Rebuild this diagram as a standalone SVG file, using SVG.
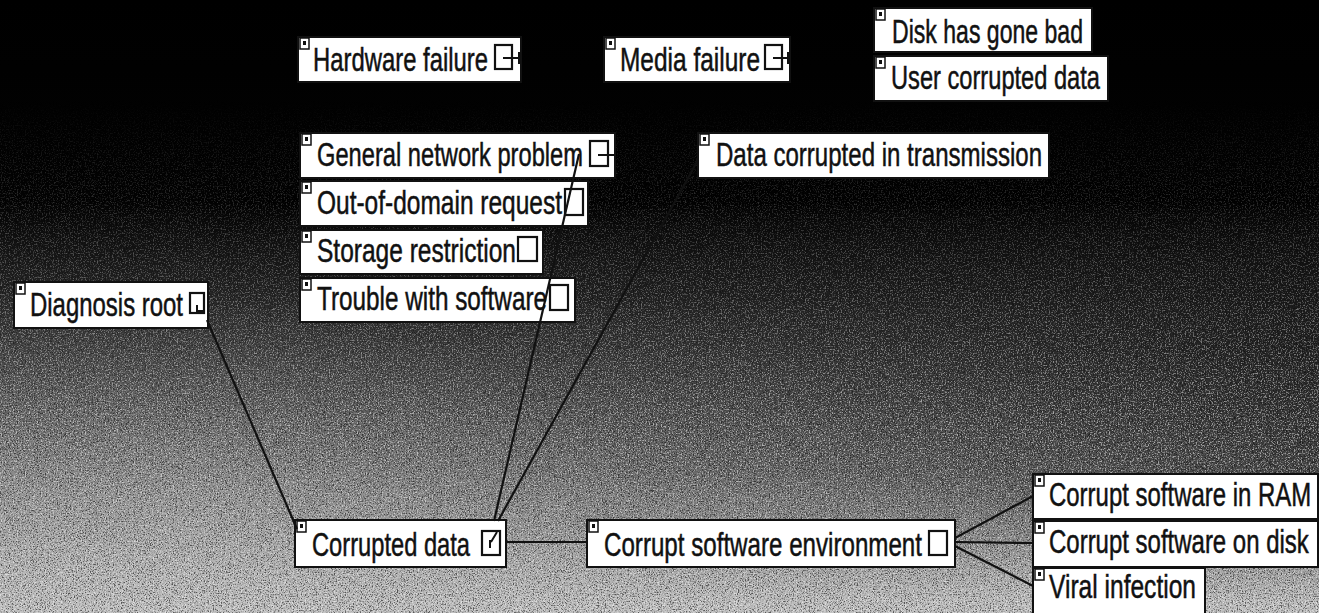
<svg xmlns="http://www.w3.org/2000/svg" width="1319" height="613" viewBox="0 0 1319 613">
<defs>
<linearGradient id="bg" x1="0" y1="0" x2="0" y2="613" gradientUnits="userSpaceOnUse">
<stop offset="0" stop-color="#000"/>
<stop offset="0.33" stop-color="#030303"/>
<stop offset="0.48" stop-color="#262626"/>
<stop offset="0.64" stop-color="#5e5e5e"/>
<stop offset="0.8" stop-color="#959595"/>
<stop offset="0.92" stop-color="#b4b4b4"/>
<stop offset="1" stop-color="#c2c2c2"/>
</linearGradient>
<linearGradient id="hdark" x1="0" y1="0" x2="1319" y2="0" gradientUnits="userSpaceOnUse">
<stop offset="0.15" stop-color="#000" stop-opacity="0"/>
<stop offset="1" stop-color="#000" stop-opacity="0.5"/>
</linearGradient>
<linearGradient id="vfade" x1="0" y1="180" x2="0" y2="600" gradientUnits="userSpaceOnUse">
<stop offset="0" stop-color="#000"/>
<stop offset="0.4" stop-color="#fff"/>
<stop offset="0.7" stop-color="#fff"/>
<stop offset="1" stop-color="#000"/>
</linearGradient>
<linearGradient id="nfade" x1="0" y1="100" x2="0" y2="420" gradientUnits="userSpaceOnUse">
<stop offset="0" stop-color="#000"/>
<stop offset="1" stop-color="#fff"/>
</linearGradient>
<mask id="mband" maskUnits="userSpaceOnUse" x="0" y="0" width="1319" height="613">
<rect x="0" y="0" width="1319" height="613" fill="url(#vfade)"/>
</mask>
<mask id="mnoise" maskUnits="userSpaceOnUse" x="0" y="0" width="1319" height="613">
<rect x="0" y="0" width="1319" height="613" fill="url(#nfade)"/>
</mask>
<filter id="noise" x="0" y="0" width="100%" height="100%" filterUnits="objectBoundingBox">
<feTurbulence type="fractalNoise" baseFrequency="0.75" numOctaves="2" seed="7" result="t"/>
<feColorMatrix in="t" type="matrix" values="0 0 0 0 0  0 0 0 0 0  0 0 0 0 0  4 0 0 0 -1.85" result="dark"/>
<feColorMatrix in="t" type="matrix" values="0 0 0 0 1  0 0 0 0 1  0 0 0 0 1  0 -4 0 0 1.9" result="light"/>
<feMerge><feMergeNode in="dark"/><feMergeNode in="light"/></feMerge>
</filter>
<style>
.box{fill:#fff;stroke:#111;stroke-width:2}
.lbl{font-family:"Liberation Sans",Arial,sans-serif;font-size:33px;fill:#111;stroke:#111;stroke-width:0.5}
.ico{fill:#fff;stroke:#111;stroke-width:1.5}
.icd{fill:#111}
.chk{fill:#fff;stroke:#111;stroke-width:2.2}
.tick{stroke:#111;stroke-width:2;fill:none}
.con{stroke:#111;stroke-width:2.2;fill:none}
</style>
</defs>

<g id="background">
<rect x="0" y="0" width="1319" height="613" fill="url(#bg)"/>
<rect x="0" y="0" width="1319" height="613" fill="url(#hdark)" mask="url(#mband)"/>
<g mask="url(#mnoise)">
<rect x="0" y="0" width="1319" height="613" filter="url(#noise)" opacity="0.55"/>
</g>
</g>

<g id="n-diagnosis-root">
<rect class="box" x="14" y="282" width="194" height="46"/>
<rect class="ico" x="16" y="283" width="9" height="11"/><rect class="icd" x="19" y="286" width="3" height="4"/>
<text class="lbl" x="30" y="316" textLength="153" lengthAdjust="spacingAndGlyphs">Diagnosis root</text>
<rect class="chk" x="190" y="293" width="14" height="20"/>
<path class="tick" d="M197 305 v6 h8"/>
</g>

<g id="n-hardware-failure">
<rect class="box" x="298" y="37" width="223" height="45"/>
<rect class="ico" x="300" y="38" width="9" height="11"/><rect class="icd" x="303" y="41" width="3" height="4"/>
<text class="lbl" x="313" y="71" textLength="175" lengthAdjust="spacingAndGlyphs">Hardware failure</text>
<rect class="chk" x="495" y="45" width="17" height="24"/>
<path class="tick" d="M503 58 h17 M519 52 v12"/>
</g>

<g id="n-media-failure">
<rect class="box" x="604" y="37" width="186" height="45"/>
<rect class="ico" x="606" y="38" width="9" height="11"/><rect class="icd" x="609" y="41" width="3" height="4"/>
<text class="lbl" x="620" y="71" textLength="140" lengthAdjust="spacingAndGlyphs">Media failure</text>
<rect class="chk" x="765" y="45" width="17" height="24"/>
<path class="tick" d="M773 58 h16 M788 52 v12"/>
</g>

<g id="n-disk-gone-bad">
<rect class="box" x="874" y="8" width="218" height="44"/>
<rect class="ico" x="876" y="9" width="9" height="11"/><rect class="icd" x="879" y="12" width="3" height="4"/>
<text class="lbl" x="892" y="43" textLength="191" lengthAdjust="spacingAndGlyphs">Disk has gone bad</text>
</g>

<g id="n-user-corrupted-data">
<rect class="box" x="874" y="56" width="234" height="45"/>
<rect class="ico" x="876" y="57" width="9" height="11"/><rect class="icd" x="879" y="60" width="3" height="4"/>
<text class="lbl" x="891" y="89" textLength="209" lengthAdjust="spacingAndGlyphs">User corrupted data</text>
</g>

<g id="n-general-network-problem">
<rect class="box" x="300" y="133" width="315" height="45"/>
<rect class="ico" x="302" y="134" width="9" height="11"/><rect class="icd" x="305" y="137" width="3" height="4"/>
<text class="lbl" x="317" y="166" textLength="266" lengthAdjust="spacingAndGlyphs">General network problem</text>
<rect class="chk" x="590" y="141" width="18" height="25"/>
<path class="tick" d="M598 155 h16"/>
</g>

<g id="n-out-of-domain-request">
<rect class="box" x="300" y="181" width="288" height="45"/>
<rect class="ico" x="302" y="182" width="9" height="11"/><rect class="icd" x="305" y="185" width="3" height="4"/>
<text class="lbl" x="317" y="214" textLength="245" lengthAdjust="spacingAndGlyphs">Out-of-domain request</text>
<rect class="chk" x="565" y="189" width="18" height="26"/>
</g>

<g id="n-storage-restriction">
<rect class="box" x="300" y="230" width="243" height="44"/>
<rect class="ico" x="302" y="231" width="9" height="11"/><rect class="icd" x="305" y="234" width="3" height="4"/>
<text class="lbl" x="317" y="262" textLength="199" lengthAdjust="spacingAndGlyphs">Storage restriction</text>
<rect class="chk" x="518" y="237" width="19" height="24"/>
</g>

<g id="n-trouble-with-software">
<rect class="box" x="300" y="278" width="275" height="44"/>
<rect class="ico" x="302" y="279" width="9" height="11"/><rect class="icd" x="305" y="282" width="3" height="4"/>
<text class="lbl" x="317" y="310" textLength="230" lengthAdjust="spacingAndGlyphs">Trouble with software</text>
<rect class="chk" x="550" y="285" width="18" height="25"/>
</g>

<g id="n-data-corrupted-transmission">
<rect class="box" x="698" y="133" width="351" height="45"/>
<rect class="ico" x="700" y="134" width="9" height="11"/><rect class="icd" x="703" y="137" width="3" height="4"/>
<text class="lbl" x="716" y="166" textLength="326" lengthAdjust="spacingAndGlyphs">Data corrupted in transmission</text>
</g>

<g id="n-corrupted-data">
<rect class="box" x="295" y="520" width="211" height="47"/>
<rect class="ico" x="297" y="521" width="9" height="11"/><rect class="icd" x="300" y="524" width="3" height="4"/>
<text class="lbl" x="312" y="556" textLength="158" lengthAdjust="spacingAndGlyphs">Corrupted data</text>
<rect class="chk" x="482" y="531" width="18" height="24"/>
<path class="tick" d="M490 540 v8 M497 532 l-6 10"/>
</g>

<g id="n-corrupt-software-environment">
<rect class="box" x="587" y="520" width="368" height="47"/>
<rect class="ico" x="589" y="521" width="9" height="11"/><rect class="icd" x="592" y="524" width="3" height="4"/>
<text class="lbl" x="604" y="556" textLength="318" lengthAdjust="spacingAndGlyphs">Corrupt software environment</text>
<rect class="chk" x="929" y="531" width="18" height="24"/>
</g>

<g id="n-corrupt-software-ram">
<rect class="box" x="1033" y="474" width="285" height="45"/>
<rect class="ico" x="1035" y="475" width="9" height="11"/><rect class="icd" x="1038" y="478" width="3" height="4"/>
<text class="lbl" transform="translate(1049,506) scale(0.726,1)" x="0" y="0">Corrupt software in RAM</text>
</g>

<g id="n-corrupt-software-disk">
<rect class="box" x="1033" y="521" width="285" height="46"/>
<rect class="ico" x="1035" y="522" width="9" height="11"/><rect class="icd" x="1038" y="525" width="3" height="4"/>
<text class="lbl" transform="translate(1049,553) scale(0.727,1)" x="0" y="0">Corrupt software on disk</text>
</g>

<g id="n-viral-infection">
<rect class="box" x="1033" y="568" width="172" height="50"/>
<rect class="ico" x="1035" y="569" width="9" height="11"/><rect class="icd" x="1038" y="572" width="3" height="4"/>
<text class="lbl" x="1049" y="598" textLength="147" lengthAdjust="spacingAndGlyphs">Viral infection</text>
</g>

<g id="connectors">
<line class="con" x1="207" y1="320" x2="297" y2="529"/>
<line class="con" x1="494" y1="521" x2="579" y2="154"/>
<line class="con" x1="498" y1="521" x2="698" y2="160"/>
<line class="con" x1="506" y1="542" x2="587" y2="542"/>
<line class="con" x1="955" y1="538" x2="1033" y2="496"/>
<line class="con" x1="955" y1="542" x2="1033" y2="543"/>
<line class="con" x1="955" y1="546" x2="1033" y2="586"/>
</g>
</svg>
